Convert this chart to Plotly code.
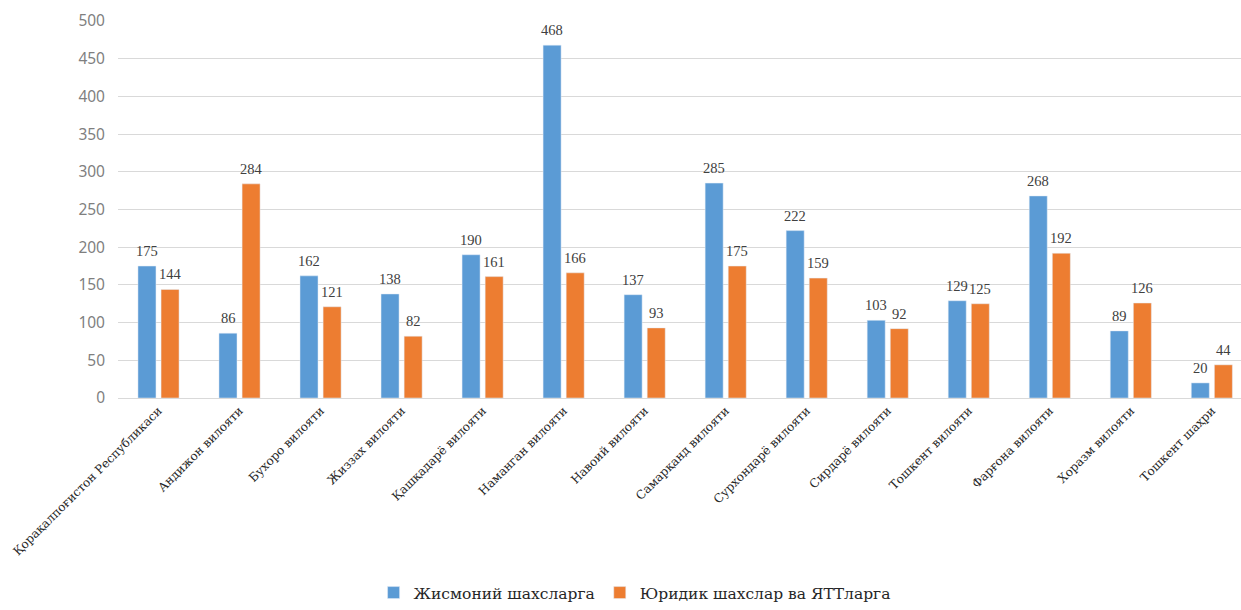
import plotly.graph_objects as go

categories = ["Қорақалпоғистон Республикаси", "Андижон вилояти", "Бухоро вилояти",
              "Жиззах вилояти", "Қашқадарё вилояти", "Наманган вилояти", "Навоий вилояти",
              "Самарқанд вилояти", "Сурхондарё вилояти", "Сирдарё вилояти",
              "Тошкент вилояти", "Фарғона вилояти", "Хоразм вилояти", "Тошкент шаҳри"]
physical = [175, 86, 162, 138, 190, 468, 137, 285, 222, 103, 129, 268, 89, 20]
legal = [144, 284, 121, 82, 161, 166, 93, 175, 159, 92, 125, 192, 126, 44]
series_names = ["Жисмоний шахсларга", "Юридик шахслар ва ЯТТларга"]
y_ticks = [0, 50, 100, 150, 200, 250, 300, 350, 400, 450, 500]

BLUE = "#5B9BD5"
ORANGE = "#ED7D31"
SERIF = "DejaVu Serif, serif"

fig = go.Figure()
fig.add_trace(go.Bar(x=categories, y=physical, name=series_names[0], marker_color=BLUE))
fig.add_trace(go.Bar(x=categories, y=legal, name=series_names[1], marker_color=ORANGE))

annotations = []
for vals, shift in ((physical, -11.5), (legal, 11.5)):
    for c, v in zip(categories, vals):
        annotations.append(dict(x=c, y=v, text=str(v), xref="x", yref="y",
                                xshift=shift, yshift=5, yanchor="bottom", showarrow=False,
                                font=dict(family="Liberation Serif, serif", size=14.5,
                                          color="#404040")))

fig.update_layout(
    width=1241, height=610,
    margin=dict(l=118, r=0, t=21, b=212),
    paper_bgcolor="white", plot_bgcolor="white",
    barmode="group", bargap=0.43, bargroupgap=0.22,
    annotations=annotations,
    showlegend=True,
    legend=dict(orientation="h", x=0.46, xref="paper", xanchor="center",
                y=0.0, yref="container", yanchor="bottom",
                font=dict(family=SERIF, size=15.5, color="#262626"),
                itemwidth=30, traceorder="normal"),
    xaxis=dict(tickangle=-45, range=[-0.5, 13.36],
               tickfont=dict(family=SERIF, size=12, color="#262626"),
               showgrid=False, showline=True, linecolor="#d9d9d9", linewidth=1,
               ticks=""),
    yaxis=dict(range=[0, 500], tickvals=y_ticks, showgrid=True, gridcolor="#d9d9d9",
               gridwidth=1, zeroline=False, showline=False,
               tickfont=dict(family="Noto Sans, sans-serif", size=15.5, color="#7f7f7f"),
               ticklabelstandoff=12),
)

fig.write_html("out.html")
